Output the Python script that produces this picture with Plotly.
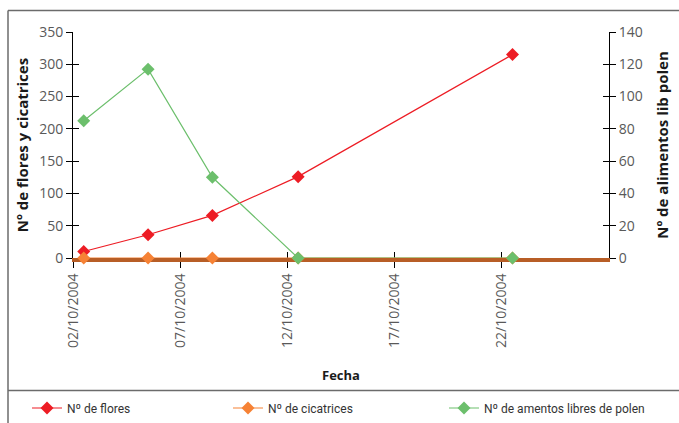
import plotly.graph_objects as go

# ---- data ----
fechas = ["2004-10-02 12:00", "2004-10-05 12:00", "2004-10-08 12:00", "2004-10-12 12:00", "2004-10-22 12:00"]
flores = [10, 36, 66, 126, 315]
cicatrices = [0, 0, 0, 0, 0]
amentos = [85, 117, 50, 0, 0]

x_tickvals = ["2004-10-02", "2004-10-07", "2004-10-12", "2004-10-17", "2004-10-22"]
x_ticktext = ["02/10/2004", "07/10/2004", "12/10/2004", "17/10/2004", "22/10/2004"]
x_range = ["2004-10-02", "2004-10-27"]
y1_range = [0, 350]
y2_range = [0, 140]

RED = "#ED1C24"
ORANGE = "#F68235"
GREEN = "#6CBF6C"
BROWN = "#B85E26"
TICKFONT = dict(family="Open Sans, Noto Sans, sans-serif", size=14, color="#595959")
TITLEFONT = dict(family="Open Sans, Noto Sans, sans-serif", size=15, color="#1a1a1a", weight="bold")
LEGFONT = dict(family="Liberation Sans Narrow, Roboto, sans-serif", size=12, color="#333333")

W, H = 679, 423
L, R, T, B = 73, 70, 32, 165
PW, PH = W - L - R, H - T - B

def px(x):
    return (x - L) / PW

def py(y):
    return (H - B - y) / PH

fig = go.Figure()
fig.add_trace(go.Scatter(x=fechas, y=flores, name="Nº de flores", mode="lines+markers",
                         line=dict(color=RED, width=1.2), marker=dict(symbol="diamond", size=10, color=RED),
                         cliponaxis=False, legend="legend"))
fig.add_trace(go.Scatter(x=fechas, y=cicatrices, name="Nº de cicatrices", mode="lines+markers",
                         line=dict(color=ORANGE, width=1.2), marker=dict(symbol="diamond", size=10, color=ORANGE),
                         cliponaxis=False, legend="legend2"))
fig.add_trace(go.Scatter(x=fechas, y=amentos, name="Nº de amentos libres de polen", mode="lines+markers",
                         line=dict(color=GREEN, width=1.2), marker=dict(symbol="diamond", size=10, color=GREEN),
                         cliponaxis=False, yaxis="y2", legend="legend3"))
# helper traces for inner (cross) tick marks
fig.add_trace(go.Scatter(x=[], y=[], xaxis="x2", yaxis="y3", showlegend=False, hoverinfo="skip"))
fig.add_trace(go.Scatter(x=[], y=[], xaxis="x2", yaxis="y4", showlegend=False, hoverinfo="skip"))

legcommon = dict(xanchor="left", yanchor="middle", font=LEGFONT, bgcolor="rgba(0,0,0,0)", borderwidth=0)

fig.update_layout(
    width=W, height=H,
    margin=dict(l=L, r=R, t=T, b=B, autoexpand=False),
    paper_bgcolor="white", plot_bgcolor="white",
    xaxis=dict(type="date", range=x_range, tickvals=x_tickvals, ticktext=x_ticktext, automargin=False,
               tickangle=-90, ticks="outside", ticklen=6, tickcolor="black", tickwidth=1,
               showline=True, linecolor=BROWN, linewidth=4, showgrid=False, zeroline=False,
               tickfont=TICKFONT, layer="below traces",
               title=dict(text="Fecha", font=dict(family="Open Sans, Noto Sans, sans-serif", size=13,
                                                   color="#1a1a1a", weight="bold"), standoff=25)),
    xaxis2=dict(type="date", range=x_range, tickvals=x_tickvals, overlaying="x", anchor="y", automargin=False,
                ticks="inside", ticklen=6, tickcolor="black", showticklabels=False,
                showline=False, showgrid=False, zeroline=False, layer="below traces"),
    yaxis=dict(range=y1_range, dtick=50, ticks="outside", ticklen=6, tickcolor="black", automargin=False,
               showline=True, linecolor="black", linewidth=1, showgrid=False, zeroline=False,
               tickfont=TICKFONT, layer="below traces",
               title=dict(text="Nº de flores y cicatrices", font=TITLEFONT, standoff=6)),
    yaxis2=dict(range=y2_range, dtick=20, overlaying="y", side="right", anchor="x", automargin=False,
                ticks="outside", ticklen=6, tickcolor="black",
                showline=True, linecolor="black", linewidth=1, showgrid=False, zeroline=False,
                tickfont=TICKFONT, layer="below traces",
                title=dict(text="Nº de alimentos lib polen", font=TITLEFONT, standoff=15)),
    yaxis3=dict(range=y1_range, dtick=50, overlaying="y", side="left", anchor="x2", automargin=False,
                ticks="inside", ticklen=6, tickcolor="black", showticklabels=False,
                showline=False, showgrid=False, zeroline=False, layer="below traces"),
    yaxis4=dict(range=y2_range, dtick=20, overlaying="y", side="right", anchor="x2", automargin=False,
                ticks="inside", ticklen=6, tickcolor="black", showticklabels=False,
                showline=False, showgrid=False, zeroline=False, layer="below traces"),
    legend=dict(x=px(27), y=py(408), **legcommon),
    legend2=dict(x=px(228), y=py(408), **legcommon),
    legend3=dict(x=px(444), y=py(408), **legcommon),
    shapes=[
        dict(type="line", xref="paper", yref="paper", x0=px(8), x1=px(679), y0=py(10.5), y1=py(10.5),
             line=dict(color="#6b6b6b", width=1.5)),
        dict(type="line", xref="paper", yref="paper", x0=px(8), x1=px(8), y0=py(10.5), y1=py(423),
             line=dict(color="#6b6b6b", width=1.5)),
        dict(type="line", xref="paper", yref="paper", x0=px(8), x1=px(679), y0=py(390.5), y1=py(390.5),
             line=dict(color="#6b6b6b", width=1.5)),
    ],
    showlegend=True,
)

fig.write_html("out.html", config={"displayModeBar": False},
               post_script="document.body.style.margin='0';document.body.style.padding='0';")
